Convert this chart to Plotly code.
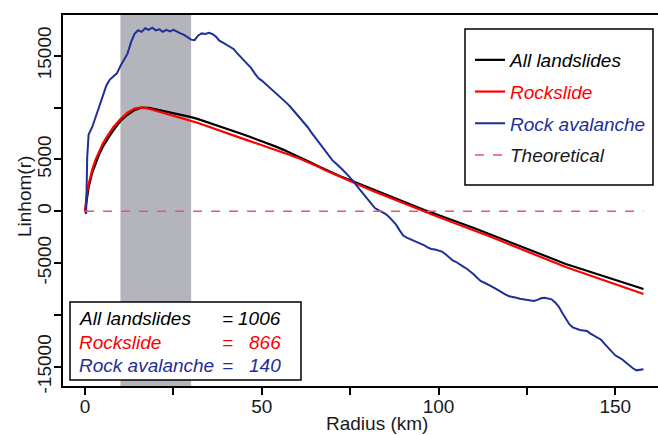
import plotly.graph_objects as go

# ---------------- data ----------------
radius_km = [0, 0.5, 1, 2, 3, 4, 5, 6, 7, 8, 10, 12, 14, 16, 18, 20, 22, 24, 26, 28,
             30, 32, 34, 36, 38, 40, 42, 44, 46, 48, 50, 52, 54, 56, 58, 60, 62, 64, 66, 68,
             70, 72, 74, 76, 78, 80, 82, 84, 86, 88, 90, 92, 94, 96, 98, 100, 102, 104, 106, 108,
             110, 112, 114, 116, 118, 120, 122, 124, 126, 128, 130, 132, 134, 136, 138, 140, 142,
             144, 146, 148, 150, 152, 154, 156, 158]

all_landslides = [0, 1400, 2300, 3700, 4700, 5500, 6200, 6800, 7300, 7800, 8700, 9300, 9750, 10000,
                  9980, 9820, 9680, 9540, 9400, 9230, 9080, 8880, 8660, 8430, 8200, 7970, 7730,
                  7490, 7250, 7010, 6760, 6500, 6230, 5940, 5640, 5320, 5000, 4670, 4340, 4010,
                  3690, 3400, 3120, 2840, 2570, 2310, 2040, 1770, 1490, 1210, 930, 650, 380, 120,
                  -120, -360, -600, -850, -1100, -1360, -1620, -1880, -2150, -2420, -2690, -2960,
                  -3230, -3510, -3780, -4050, -4320, -4600, -4870, -5090, -5310, -5530, -5750,
                  -5970, -6190, -6410, -6630, -6850, -7070, -7290, -7500]

rockslide = [0, 1700, 2600, 4000, 5000, 5800, 6500, 7100, 7600, 8100, 8900, 9500, 9900, 10020,
             9900, 9700, 9500, 9320, 9130, 8940, 8740, 8510, 8260, 8010, 7770, 7540, 7300, 7060,
             6830, 6600, 6380, 6150, 5920, 5680, 5430, 5170, 4890, 4590, 4280, 3960, 3650, 3350,
             3060, 2750, 2460, 2170, 1890, 1610, 1320, 1040, 760, 490, 220, -40, -300, -550,
             -800, -1050, -1300, -1560, -1820, -2080, -2360, -2640, -2920, -3200, -3480, -3760,
             -4040, -4320, -4600, -4880, -5150, -5390, -5620, -5850, -6080, -6310, -6540, -6770,
             -7000, -7230, -7460, -7700, -7990]

radius_ava_km = [0, 0.3, 0.6] + list(range(1, 159))
rock_avalanche = [0, -250, 5200,
                  7400, 8100, 9000, 10100, 11100, 12100, 12700, 13000, 13300, 14000,
                  14600, 15200, 16300, 17100, 17450, 17300, 17650, 17500, 17700, 17450,
                  17550, 17300, 17500, 17350, 17500, 17300, 17150, 17000, 16750, 16550,
                  16500, 16950, 17150, 17100, 17200, 17100, 16850, 16450, 16250, 16050,
                  15800, 15650, 15250, 14900, 14500, 14150, 13800, 13300, 12850, 12600,
                  12300, 11950, 11650, 11350, 11050, 10800, 10450, 10100, 9700, 9400,
                  8950, 8600, 8100, 7600, 7150, 6700, 6200, 5750, 5250, 4900,
                  4600, 4300, 3950, 3600, 3250, 2850, 2400, 2000, 1550, 1100,
                  700, 300, 100, -50, -250, -550, -900, -1300, -1850, -2350,
                  -2550, -2700, -2800, -2950, -3150, -3300, -3500, -3650, -3700, -3800,
                  -3900, -4150, -4500, -4750, -4900, -5150, -5350, -5550, -5800, -6100,
                  -6450, -6750, -6900, -7050, -7250, -7450, -7650, -7900, -8050, -8200,
                  -8250, -8350, -8450, -8500, -8550, -8600, -8650, -8550, -8400, -8350,
                  -8450, -8500, -8800, -9200, -9800, -10400, -10900, -11200, -11350, -11450,
                  -11500, -11550, -11800, -12000, -12200, -12400, -12800, -13200, -13600, -13900,
                  -14100, -14300, -14600, -14900, -15150, -15350, -15300, -15250]

theo_x = [0, 158]
theo_y = [0, 0]

band_km = [10, 30]

count_names = ["All landslides", "Rockslide", "Rock avalanche"]
count_values = [1006, 866, 140]

x_tickvals = [0, 25, 50, 75, 100, 125, 150]
x_ticktext = ["0", "", "50", "", "100", "", "150"]
y_tickvals = [-15000, -10000, -5000, 0, 5000, 10000, 15000]
y_ticktext = ["-15000", "", "-5000", "0", "5000", "", "15000"]

# ---------------- styling ----------------
BLACK = "#000000"
RED = "#ff0000"
BLUE = "#1f2f96"
DASH = "#f2545c"
FONT = "Liberation Sans, Arial, sans-serif"

L, T, W, H = 63, 15, 595, 371  # plot area in pixels


def px_x(p):
    return (p - L) / W


def px_y(p):
    return (T + H - p) / H


fig = go.Figure()


def lab(text, color):
    return f"<i><span style='color:{color}'>{text}</span></i>"


fig.add_trace(go.Scatter(x=radius_km, y=all_landslides, mode="lines",
                         line=dict(color=BLACK, width=2.2),
                         name=lab("All landslides", BLACK), legendgroup="a"))
fig.add_trace(go.Scatter(x=radius_km, y=rockslide, mode="lines",
                         line=dict(color=RED, width=2.2),
                         name=lab("Rockslide", RED), legendgroup="b"))
fig.add_trace(go.Scatter(x=radius_ava_km, y=rock_avalanche, mode="lines",
                         line=dict(color=BLUE, width=2),
                         name=lab("Rock avalanche", BLUE), legendgroup="c"))
fig.add_trace(go.Scatter(x=theo_x, y=theo_y, mode="lines",
                         line=dict(color=DASH, width=1.6, dash="dash"),
                         name=lab("Theoretical", "#1a1a1a"), legendgroup="d"))

# grey band
fig.add_shape(type="rect", xref="x", yref="paper", x0=band_km[0], x1=band_km[1],
              y0=0, y1=1, fillcolor="#b4b4bc", line=dict(width=0), layer="below")

# legend box (top right)
fig.add_shape(type="rect", xref="paper", yref="paper", x0=px_x(465), x1=px_x(653),
              y0=px_y(185), y1=px_y(29),
              fillcolor="white", line=dict(color=BLACK, width=1.5), layer="above")

# count box (bottom left)
fig.add_shape(type="rect", xref="paper", yref="paper", x0=px_x(70), x1=px_x(301),
              y0=px_y(380), y1=px_y(302),
              fillcolor="white", line=dict(color=BLACK, width=1.5), layer="above")

count_colors = [BLACK, RED, BLUE]
row_y = [318, 342, 365]
for name, val, col, yy in zip(count_names, count_values, count_colors, row_y):
    yp = px_y(yy)
    fig.add_annotation(x=px_x(77), y=yp, xref="paper", yref="paper",
                       text=f"<i>{name}</i>", showarrow=False, xanchor="left", yanchor="middle",
                       font=dict(size=19, color=col, family=FONT))
    fig.add_annotation(x=px_x(227), y=yp, xref="paper", yref="paper",
                       text="<i>=</i>", showarrow=False, xanchor="center", yanchor="middle",
                       font=dict(size=19, color=col, family=FONT))
    fig.add_annotation(x=px_x(283), y=yp, xref="paper", yref="paper",
                       text=f"<i>{val}</i>", showarrow=False, xanchor="right", yanchor="middle",
                       font=dict(size=19, color=col, family=FONT))

# axis titles
fig.add_annotation(x=px_x(377), y=px_y(423), xref="paper", yref="paper",
                   text="Radius (km)", showarrow=False, xanchor="center", yanchor="middle",
                   font=dict(size=19, color="#1a1a1a", family=FONT))
fig.add_annotation(x=px_x(24), y=px_y(197), xref="paper", yref="paper",
                   text="Linhom(r)", showarrow=False, xanchor="center", yanchor="middle",
                   textangle=-90, font=dict(size=19, color="#1a1a1a", family=FONT))

fig.update_layout(
    width=658, height=435,
    margin=dict(l=L, r=658 - L - W, t=T, b=435 - T - H, autoexpand=False),
    paper_bgcolor="white", plot_bgcolor="white",
    font=dict(family=FONT, size=19, color="#1a1a1a"),
    showlegend=True,
    legend=dict(x=px_x(470), y=px_y(41), xanchor="left", yanchor="top",
                bgcolor="rgba(0,0,0,0)", borderwidth=0, traceorder="grouped",
                tracegroupgap=4, font=dict(size=19, family=FONT)),
    xaxis=dict(range=[-6.25, 162.1], tickvals=x_tickvals, ticktext=x_ticktext,
               ticks="outside", ticklen=7, tickwidth=1.5, tickcolor=BLACK,
               showline=True, linewidth=2, linecolor=BLACK, mirror=True,
               showgrid=False, zeroline=False, automargin=False,
               ticklabelstandoff=-5,
               tickfont=dict(size=19)),
    yaxis=dict(range=[-16860, 18925], tickvals=y_tickvals, ticktext=y_ticktext,
               ticks="outside", ticklen=7, tickwidth=1.5, tickcolor=BLACK, tickangle=-90,
               showline=True, linewidth=2, linecolor=BLACK,
               showgrid=False, zeroline=False, automargin=False,
               ticklabelstandoff=-5,
               tickfont=dict(size=19)),
)

fig.write_html("out.html",
               config={"displayModeBar": False},
               post_script="document.body.style.margin='0';"
                           "document.documentElement.style.margin='0';")
